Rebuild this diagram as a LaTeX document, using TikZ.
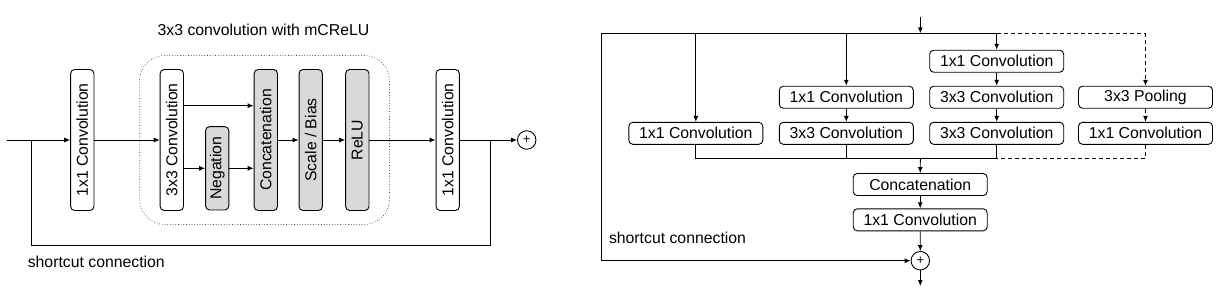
\documentclass[tikz,border=0pt]{standalone}
\usepackage{fontspec}
\setmainfont{Liberation Sans}
\usetikzlibrary{arrows.meta,fit}
\tikzset{
      hbox/.style={
        draw,
        rounded corners=4pt,
        line width=0.9pt,
        minimum width=134pt,
        minimum height=22pt,
        inner sep=0pt,
        font=\fontsize{15.8}{18}\selectfont
      },
      vbox/.style={
        draw,
        rounded corners=4pt,
        line width=0.9pt,
        minimum width=23.3pt,
        minimum height=141pt,
        inner sep=0pt,
        font=\fontsize{15.8}{18}\selectfont
      },
      shaded/.style={fill=black!15},
      sumnode/.style={circle, draw, line width=0.9pt, minimum size=18.5pt, inner sep=0pt,
        font=\fontsize{13}{13}\selectfont},
      txt/.style={inner sep=0pt, font=\fontsize{15.8}{18}\selectfont},
      flow/.style={line width=0.9pt, -{Latex[length=6pt,width=5pt]}},
      link/.style={line width=0.9pt},
      pooldash/.style={dash pattern=on 4pt off 3pt}
    }
\begin{document}
\begin{tikzpicture}[x=1pt,y=-1pt]
    \useasboundingbox (0,0) rectangle (1222,298);
    % left: block with mCReLU
    \node[vbox] (conva) at (82.3,140) {\rotatebox{90}{1x1 Convolution}};
    \node[vbox] (convb) at (171.8,140) {\rotatebox{90}{3x3 Convolution}};
    \node[vbox, shaded, minimum height=83.3pt] (neg) at (217.2,168.3) {\rotatebox{90}{Negation}};
    \node[vbox, shaded] (concat) at (265.8,140) {\rotatebox{90}{Concatenation}};
    \node[vbox, shaded] (scale) at (310.7,140) {\rotatebox{90}{Scale / Bias}};
    \node[vbox, shaded] (relu) at (357.3,140) {\rotatebox{90}{ReLU}};
    \node[vbox] (convc) at (447.7,140) {\rotatebox{90}{1x1 Convolution}};
    \node[sumnode] (plusa) at (526.7,140) {+};
    \node[draw=black!75, dotted, line width=0.7pt, rounded corners=25pt, inner xsep=20pt,
      inner ysep=13.5pt, fit=(convb)(relu)] (mcrelu) {};
    \node[txt] (title) at (263.5,30) {3x3 convolution with mCReLU};
    \node[txt] (sca) at (96.3,261.7) {shortcut connection};
    \coordinate (ina) at (6.7,140);
    \coordinate (sc) at (31.7,140);
    \coordinate (sj) at (490.7,140);
    \draw[flow] (ina) -- (conva);
    \draw[flow] (conva) -- (convb);
    \draw[flow] ([yshift=34.3pt]convb.east) -- ([yshift=34.3pt]concat.west);
    \draw[flow] (convb.east |- neg.west) -- (neg.west);
    \draw[flow] (neg.east) -- (concat.west |- neg.east);
    \draw[flow] (concat) -- (scale);
    \draw[flow] (scale) -- (relu);
    \draw[flow] (relu) -- (convc);
    \draw[flow] (convc) -- (plusa);
    \draw[link] (sc) -- ++(0,105) -| (sj);
    % right: inception block
    \node[hbox] (a1) at (695.8,133.3) {1x1 Convolution};
    \node[hbox] (b1) at (846.3,97.2) {1x1 Convolution};
    \node[hbox] (b2) at (846.3,133.3) {3x3 Convolution};
    \node[hbox] (c1) at (996.7,61.2) {1x1 Convolution};
    \node[hbox] (c2) at (996.7,97.2) {3x3 Convolution};
    \node[hbox] (c3) at (996.7,133.3) {3x3 Convolution};
    \node[hbox] (p) at (1145.5,97.2) {3x3 Pooling};
    \node[hbox] (d2) at (1145.5,133.3) {1x1 Convolution};
    \node[hbox] (catb) at (920.2,184.5) {Concatenation};
    \node[hbox] (convd) at (920.2,219.8) {1x1 Convolution};
    \node[sumnode] (plusb) at (920.3,260.7) {+};
    \node[txt] (scb) at (677.5,237.7) {shortcut connection};
    \coordinate (inb) at (920.3,16.7);
    \coordinate (split) at (920.3,33.3);
    \coordinate (tl) at (601,33.3);
    \coordinate (merge) at (920.3,158.3);
    \coordinate (outb) at (920.3,286);
    \draw[flow] (inb) -- (split);
    \draw[link] (tl) -- (c1.north |- split);
    \draw[link, pooldash] (c1.north |- split) -- (p.north |- split);
    \draw[flow] (a1.north |- split) -- (a1);
    \draw[flow] (b1.north |- split) -- (b1);
    \draw[flow] (c1.north |- split) -- (c1);
    \draw[flow, pooldash] (p.north |- split) -- (p);
    \draw[flow] (b1) -- (b2);
    \draw[flow] (c1) -- (c2);
    \draw[flow] (c2) -- (c3);
    \draw[flow, pooldash] (p) -- (d2);
    \draw[link] (a1) |- (c3.south |- merge);
    \draw[link] (b2) -- (b2.south |- merge);
    \draw[link] (c3) -- (c3.south |- merge);
    \draw[link, pooldash] (d2) |- (c3.south |- merge);
    \draw[flow] (merge) -- (catb);
    \draw[flow] (catb) -- (convd);
    \draw[flow] (convd) -- (plusb);
    \draw[flow] (plusb) -- (outb);
    \draw[flow] (tl) |- (plusb);
    \end{tikzpicture}
\end{document}
